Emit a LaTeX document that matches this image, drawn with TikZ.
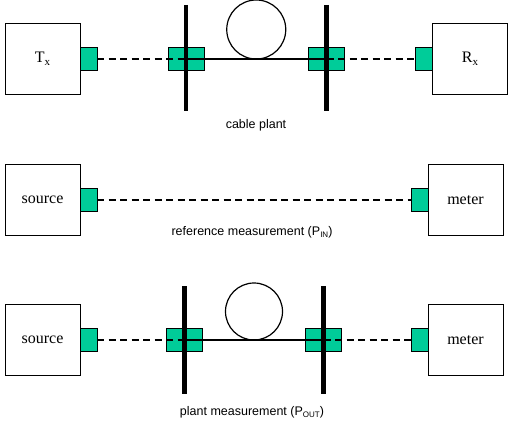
\documentclass[tikz,border=0pt]{standalone}
\usepackage{fontspec}
\setmainfont{Liberation Serif}
\newfontfamily\capfont{Liberation Sans}
\usetikzlibrary{positioning}
\definecolor{portgreen}{HTML}{00CC99}
\tikzstyle{unit} = [draw=black, line width=0.8pt, fill=white, outer sep=0pt, minimum width=75pt, minimum height=71pt, font=\fontsize{16}{16}\selectfont]
\tikzstyle{port} = [draw=black, line width=0.8pt, fill=portgreen, outer sep=0pt, minimum width=17pt, minimum height=23pt, inner sep=0pt]
\tikzstyle{coupler} = [draw=black, line width=0.6pt, fill=portgreen, outer sep=0pt, minimum width=36pt, minimum height=23pt, inner sep=0pt]
\tikzstyle{fibre} = [line width=1.3pt, dash pattern=on 7pt off 4.5pt]
\tikzstyle{span} = [line width=1.2pt]
\tikzstyle{bulkhead} = [line width=4.5pt]
\tikzstyle{spool} = [draw=black, circle, line width=1.2pt, minimum size=59pt, inner sep=0pt, outer sep=0pt]
\tikzstyle{caption} = [font=\capfont\fontsize{12.5}{12.5}\selectfont]
\newcommand{\boxsub}[1]{\raisebox{-3pt}{\fontsize{11}{11}\selectfont #1}}
\newcommand{\capsub}[1]{\raisebox{-2pt}{\fontsize{8}{8}\selectfont #1}}

\begin{document}
\begin{tikzpicture}[x=1pt, y=-1pt]
\useasboundingbox (0,0) rectangle (528,425);

\node (tx) [unit] at (42.5,59) {T\boxsub{x}};
\node (txp) [port, right=0pt of tx] {};
\node (rx) [unit] at (470,59) {R\boxsub{x}};
\node (rxp) [port, left=0pt of rx] {};
\node (cpl1) [coupler] at (186,59) {};
\node (cpl2) [coupler] at (326.5,59) {};

\draw [fibre] (txp) -- (cpl1.center);
\draw [span] (cpl1.center) -- (cpl2.center);
\draw [fibre] (cpl2.center) -- (rxp);
\node (loop1) [spool, anchor=south] at (256.25,59) {};
\draw [bulkhead] (cpl1.center) ++(0,-54) -- ++(0,106);
\draw [bulkhead] (cpl2.center) ++(0,-54) -- ++(0,106);
\node (cap1) [caption] at (256,125) {cable plant};

\node (src1) [unit] at (42.5,200) {source};
\node (srcp1) [port, right=0pt of src1] {};
\node (mtr1) [unit] at (465.5,200) {meter};
\node (mtrp1) [port, left=0pt of mtr1] {};

\draw [fibre] (srcp1) -- (mtrp1);
\node (cap2) [caption] at (252,232) {reference measurement (P\capsub{IN})};

\node (src2) [unit] at (42.5,340) {source};
\node (srcp2) [port, right=0pt of src2] {};
\node (mtr2) [unit] at (465.5,340) {meter};
\node (mtrp2) [port, left=0pt of mtr2] {};
\node (cpl3) [coupler] at (184.5,340) {};
\node (cpl4) [coupler] at (323.5,340) {};

\draw [fibre] (srcp2) -- (cpl3.center);
\draw [span] (cpl3.center) -- (cpl4.center);
\draw [fibre] (cpl4.center) -- (mtrp2);
\node (loop2) [spool, anchor=south, minimum size=57pt] at (254,340) {};
\draw [bulkhead] (cpl3.center) ++(0,-54) -- ++(0,108);
\draw [bulkhead] (cpl4.center) ++(0,-54) -- ++(0,108);
\node (cap3) [caption] at (252,412) {plant measurement (P\capsub{OUT})};

\end{tikzpicture}
\end{document}
